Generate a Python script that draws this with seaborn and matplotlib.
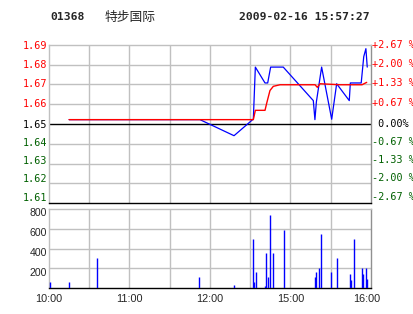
import matplotlib
matplotlib.use("Agg")
import matplotlib.pyplot as plt
import matplotlib.transforms as mtransforms
import seaborn as sns
import numpy as np

# ---------------- data ----------------
code = "01368"
name = "特步国际"
stamp = "2009-02-16 15:57:27"

# time in trading minutes since 10:00 (lunch break removed)
price_t = [15, 112.5, 137.9, 152.3, 153.8, 161.0, 163.0, 165.2, 174.6, 197.0, 198.2,
           199.3, 203.2, 210.7, 214.4, 223.8, 224.6, 232.7, 234.6, 236.2, 237.2]
price_v = [1.6522, 1.6522, 1.6441, 1.6525, 1.6787, 1.6707, 1.6707, 1.6787, 1.6787,
           1.6618, 1.6522, 1.6612, 1.6787, 1.6524, 1.6703, 1.6618, 1.6707, 1.6707,
           1.6840, 1.6880, 1.6787]

avg_t = [15, 152.3, 153.8, 161.0, 162.3, 164.7, 167.2, 172.2, 198.3, 200.0, 202.0,
         216.9, 233.3, 236.8]
avg_v = [1.6522, 1.6522, 1.6569, 1.6569, 1.6606, 1.6669, 1.6690, 1.6698, 1.6698,
         1.6685, 1.6703, 1.6698, 1.6698, 1.6710]

vol_t = [1, 15, 36, 112, 138, 152, 153, 154, 161, 162, 163, 165, 167, 175, 198,
         198.7, 201, 203, 210, 215, 224, 225, 227, 233, 234, 236.5, 237.2]
vol_v = [58, 60, 300, 111, 30, 499, 61, 162, 20, 354, 111, 739, 354, 587, 111,
         162, 202, 547, 162, 304, 142, 81, 499, 202, 142, 202, 91]

prev_close = 1.65
price_ticks = [1.69, 1.68, 1.67, 1.66, 1.65, 1.64, 1.63, 1.62, 1.61]
price_labels = ["1.69", "1.68", "1.67", "1.66", "1.65", "1.64", "1.63", "1.62", "1.61"]
pct_labels = ["+2.67 %", "+2.00 %", "+1.33 %", "+0.67 %", " 0.00%",
              "-0.67 %", "-1.33 %", "-2.00 %", "-2.67 %"]
vol_ticks = [200, 400, 600, 800]
vol_labels = ["200", "400", "600", "800"]
time_ticks = [0, 60, 120, 180, 240]
time_labels = ["10:00", "11:00", "12:00", "15:00", "16:00"]
grid_minutes = [30, 60, 90, 120, 150, 180, 210]

# ---------------- style ----------------
sns.set_style("white")
plt.rcParams["font.family"] = ["DejaVu Sans"]

RED = "#ff0000"
GREEN = "#006000"
BLUE = "#0000ff"
GRID = "#c0c0c0"
W, H = 414, 314

fig = plt.figure(figsize=(W / 100, H / 100), dpi=100)
ax1 = fig.add_axes([49 / W, 1 - 203.3 / H, 322 / W, 158.6 / H])
ax2 = fig.add_axes([49 / W, 1 - 288 / H, 322 / W, 79 / H])

for ax in (ax1, ax2):
    ax.set_xlim(0, 240)
    for m in grid_minutes:
        ax.axvline(m, color=GRID, lw=1.0, zorder=0)
    for s in ("left", "top", "right"):
        ax.spines[s].set_color(GRID)
        ax.spines[s].set_linewidth(1.0)
    ax.spines["right"].set_color("#909090")
    ax.spines["bottom"].set_color("black")
    ax.spines["bottom"].set_linewidth(1.0)
    ax.tick_params(length=0)

# price panel
ax1.set_ylim(1.61, 1.69)
for p in price_ticks[1:-1]:
    if abs(p - prev_close) > 1e-9:
        ax1.axhline(p, color=GRID, lw=1.0, zorder=0)
ax1.axhline(prev_close, color="black", lw=1.0, zorder=1)

sns.lineplot(x=price_t, y=price_v, ax=ax1, color=BLUE, lw=0.9,
             estimator=None, sort=False, zorder=3)
sns.lineplot(x=avg_t, y=avg_v, ax=ax1, color=RED, lw=1.0,
             estimator=None, sort=False, zorder=4)
ax1.set_xticks([])
ax1.set_yticks(price_ticks)
ax1.set_yticklabels(price_labels, family="DejaVu Sans Mono", fontsize=7.3)
ax1.tick_params(axis="y", pad=1.3)
lab_shift = [-0.6, 0.2, 1.0, 1.4, -0.3, 2.2, 3.7, 5.2, 6.3]
for lab, p, sh in zip(ax1.get_yticklabels(), price_ticks, lab_shift):
    col = RED if p > prev_close + 1e-9 else ("black" if abs(p - prev_close) < 1e-9 else GREEN)
    lab.set_color(col)
    lab.set_transform(lab.get_transform() +
                      mtransforms.ScaledTranslation(0, sh / 100, fig.dpi_scale_trans))

ytr = ax1.get_yaxis_transform()
for p, txt, sh in zip(price_ticks, pct_labels, lab_shift):
    col = RED if p > prev_close + 1e-9 else ("black" if abs(p - prev_close) < 1e-9 else GREEN)
    ax1.text(1.0 + 1 / 322, p, txt, transform=ytr + mtransforms.ScaledTranslation(
        0, sh / 100, fig.dpi_scale_trans), ha="left", va="center",
        family="DejaVu Sans Mono", fontsize=7.3, color=col, clip_on=False)
ax1.set_xlabel("")
ax1.set_ylabel("")

# volume panel
ax2.set_ylim(0, 800)
for v in vol_ticks[:-1]:
    ax2.axhline(v, color=GRID, lw=1.0, zorder=0)
ax2.vlines(vol_t, 0, vol_v, color=BLUE, lw=1.0, zorder=3)
ax2.set_yticks(vol_ticks)
ax2.set_yticklabels(vol_labels, family="Liberation Sans", fontsize=7.6)
ax2.tick_params(axis="y", pad=1.5)
for lab in ax2.get_yticklabels():
    lab.set_transform(lab.get_transform() +
                      mtransforms.ScaledTranslation(0, -3.5 / 100, fig.dpi_scale_trans))
ax2.set_xticks(time_ticks)
ax2.set_xticklabels(time_labels, family="Liberation Sans", fontsize=7.8)
ax2.tick_params(axis="x", pad=4)
xl = ax2.get_xticklabels()
xl[-1].set_transform(xl[-1].get_transform() +
                     mtransforms.ScaledTranslation(-4 / 100, 0, fig.dpi_scale_trans))

# header
fig.text(50 / W, 1 - 17 / H, code, family="DejaVu Sans Mono", weight="bold",
         fontsize=8.2, ha="left", va="center")
fig.text(105 / W, 1 - 17 / H, name, family=["Noto Sans CJK SC", "DejaVu Sans"],
         fontsize=9.2, ha="left", va="center")
fig.text(370 / W, 1 - 17 / H, stamp, family="DejaVu Sans Mono", weight="bold",
         fontsize=8.2, ha="right", va="center")

fig.savefig("out.png", dpi=100, facecolor="white")
